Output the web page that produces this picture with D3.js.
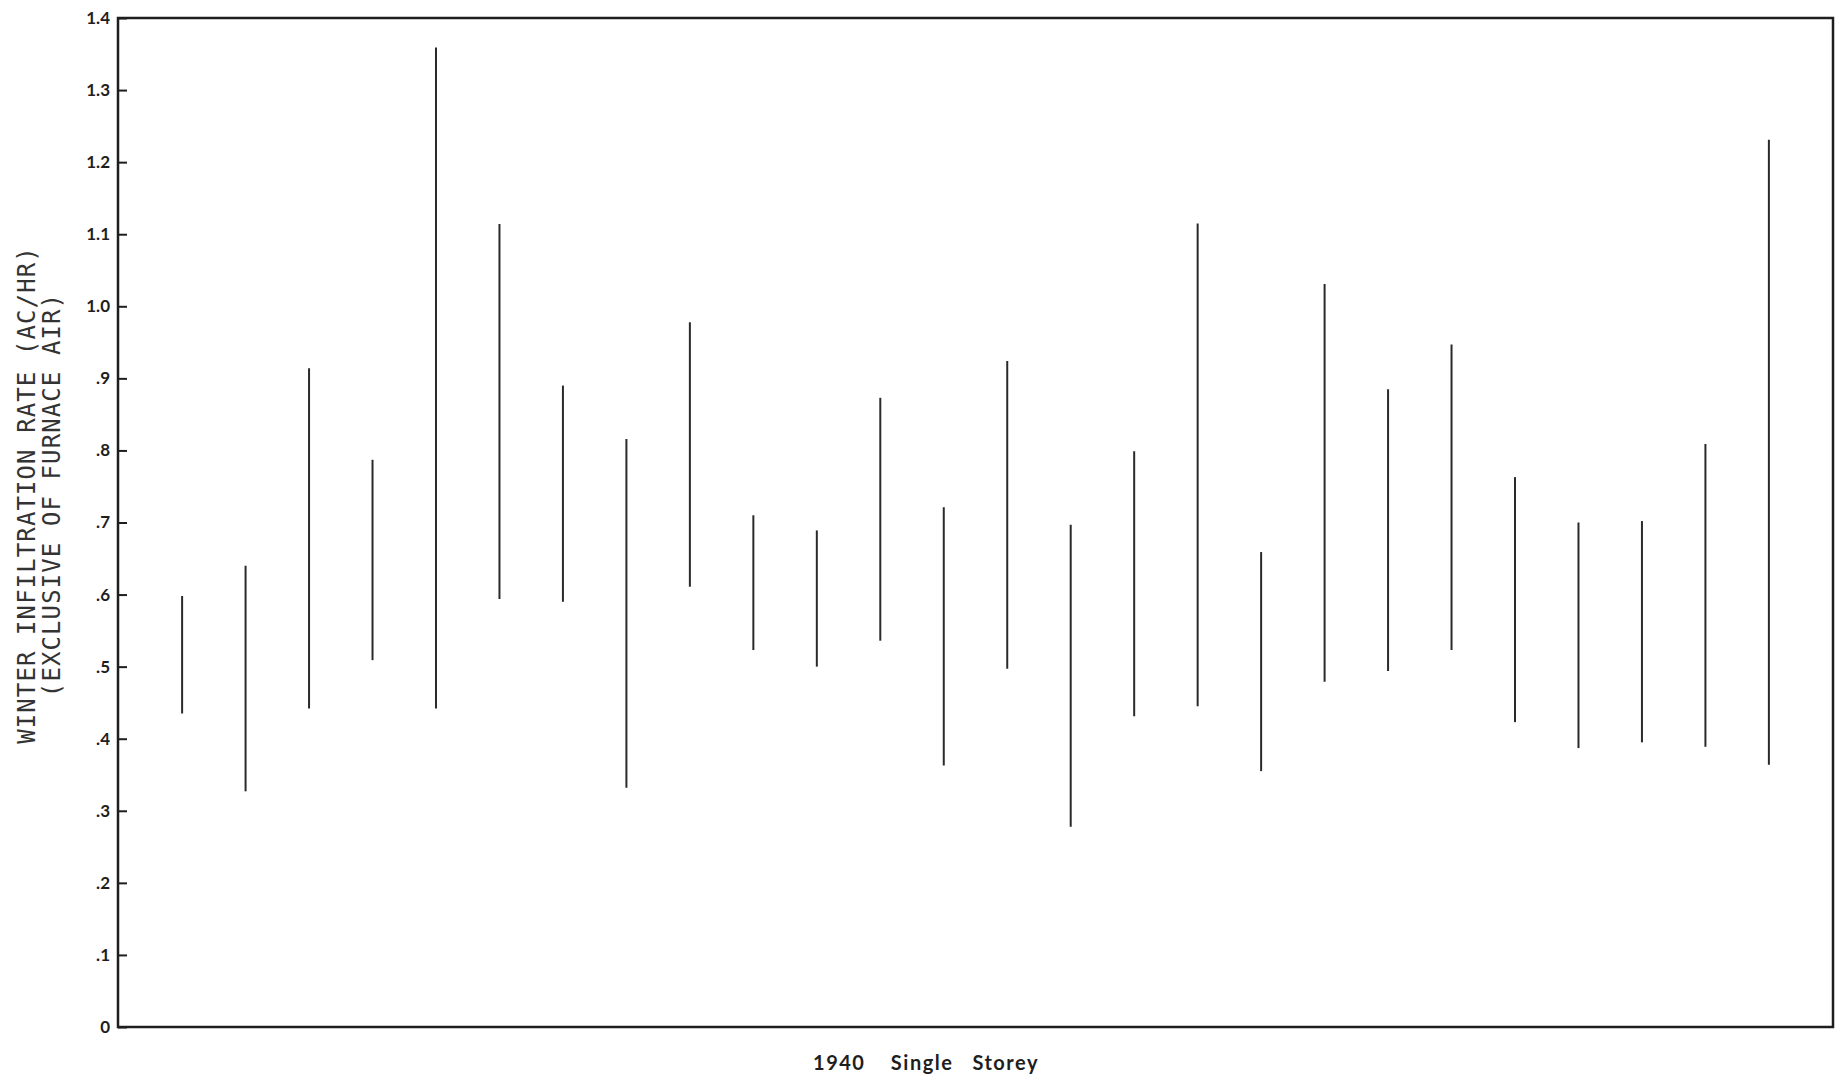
<!DOCTYPE html>
<html>
<head>
<meta charset="utf-8">
<script src="https://cdn.jsdelivr.net/npm/d3@7"></script>
<style>
  html, body { margin: 0; padding: 0; background: #fff; }
  svg { display: block; }
</style>
</head>
<body>
<svg id="chart" width="1836" height="1078"></svg>
<script>
// ---- data ----
const categories = d3.range(1, 27).map(i => "House " + i);
const lowValues  = [0.435, 0.327, 0.442, 0.509, 0.442, 0.594, 0.590, 0.332, 0.611, 0.523, 0.500, 0.536, 0.363,
                    0.497, 0.278, 0.431, 0.445, 0.355, 0.479, 0.494, 0.523, 0.423, 0.387, 0.395, 0.389, 0.364];
const highValues = [0.598, 0.640, 0.914, 0.787, 1.359, 1.114, 0.890, 0.816, 0.978, 0.710, 0.689, 0.873, 0.721,
                    0.924, 0.697, 0.799, 1.115, 0.659, 1.031, 0.885, 0.947, 0.763, 0.700, 0.702, 0.809, 1.231];
const tickValues = [0, 0.1, 0.2, 0.3, 0.4, 0.5, 0.6, 0.7, 0.8, 0.9, 1.0, 1.1, 1.2, 1.3, 1.4];
const tickLabels = ["0", ".1", ".2", ".3", ".4", ".5", ".6", ".7", ".8", ".9", "1.0", "1.1", "1.2", "1.3", "1.4"];
const yTitleLines = ["WINTER INFILTRATION RATE (AC/HR)", "(EXCLUSIVE OF FURNACE AIR)"];
const xTitle = "1940\u00a0\u00a0\u00a0\u00a0Single\u00a0\u00a0\u00a0Storey";

// ---- layout ----
const svg = d3.select("#chart");
const plotL = 118, plotR = 1833, plotT = 18, plotB = 1027;

const x = d3.scalePoint().domain(categories).range([plotL, plotR]).padding(1.01);
const y = d3.scaleLinear().domain([0, 1.4]).range([plotB, plotT]);

const ink = "#1e1e1e";

// frame
svg.append("rect")
  .attr("x", plotL).attr("y", plotT)
  .attr("width", plotR - plotL).attr("height", plotB - plotT)
  .attr("fill", "none").attr("stroke", ink).attr("stroke-width", 2.5);

// y axis
const yAxis = d3.axisLeft(y)
  .tickValues(tickValues)
  .tickFormat((d, i) => tickLabels[i])
  .tickSizeInner(-9)
  .tickSizeOuter(0)
  .tickPadding(8);

const gy = svg.append("g").attr("transform", `translate(${plotL},0)`).call(yAxis);
gy.select(".domain").remove();
gy.selectAll(".tick line").attr("stroke", ink).attr("stroke-width", 2);
gy.selectAll(".tick text")
  .attr("fill", ink)
  .style("font-family", "'Century Gothic', Lato, 'DejaVu Sans', sans-serif")
  .style("font-size", "17px")
  .style("font-weight", "bold");

// range lines
const rows = categories.map((c, i) => ({ c, lo: lowValues[i], hi: highValues[i] }));
svg.append("g").selectAll("line").data(rows).join("line")
  .attr("x1", d => x(d.c)).attr("x2", d => x(d.c))
  .attr("y1", d => y(d.hi)).attr("y2", d => y(d.lo))
  .attr("stroke", "#2a2a2a").attr("stroke-width", 2);

// y title (two lines, rotated)
const yt = svg.append("text")
  .attr("transform", `translate(0,495) rotate(-90)`)
  .attr("text-anchor", "middle")
  .attr("fill", "#333")
  .style("font-family", "'DejaVu Sans Mono', 'Liberation Mono', monospace")
  .style("font-size", "24px")
  .style("letter-spacing", "1.1px");
yt.selectAll("tspan").data(yTitleLines).join("tspan")
  .attr("x", 0)
  .attr("y", (d, i) => 35 + i * 25)
  .text(d => d);

// x title
svg.append("text")
  .attr("x", 926).attr("y", 1070)
  .attr("text-anchor", "middle")
  .attr("fill", ink)
  .style("font-family", "'Century Gothic', Lato, 'DejaVu Sans', sans-serif")
  .style("font-size", "20px")
  .style("font-weight", "bold")
  .style("letter-spacing", "1.5px")
  .text(xTitle);
</script>
</body>
</html>
